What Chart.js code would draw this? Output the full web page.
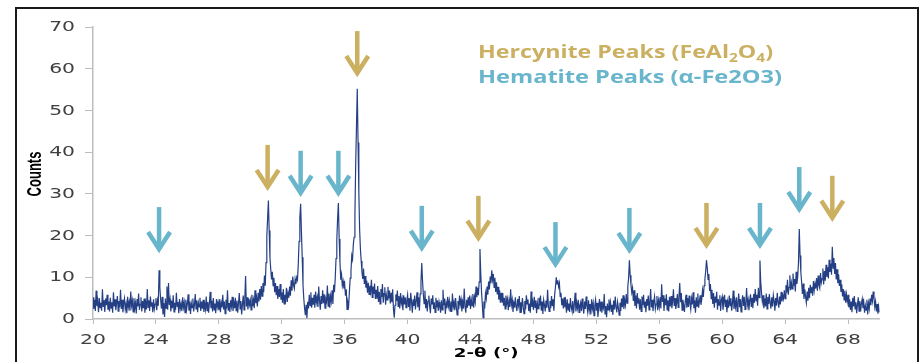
<!DOCTYPE html>
<html>
<head>
<meta charset="utf-8">
<script src="https://cdn.jsdelivr.net/npm/chart.js@4.4.1/dist/chart.umd.min.js"></script>
<style>
  html, body { margin: 0; padding: 0; background: #fff; }
  #xrd { display: block; }
</style>
</head>
<body>
<canvas id="xrd" width="921" height="362"></canvas>
<script>
// XRD scan, 2θ from 20° to 70° at 0.05° steps (one row per degree)
const scanStart = 20;
const scanStep = 0.05;
const counts = [
  5.2, 2.4, 4.6, 1.9, 6.8, 3.1, 4.4, 1.6, 5.0, 2.7, 3.9, 2.0, 7.1, 2.9, 4.5, 1.7, 4.9, 3.3, 5.8, 2.2,
  4.2, 1.8, 5.1, 2.6, 4.0, 1.5, 6.4, 3.0, 4.7, 2.1, 3.8, 5.5, 1.9, 4.3, 2.8, 7.0, 2.4, 4.6, 1.6, 3.7,
  4.9, 2.3, 3.6, 1.4, 5.3, 2.9, 4.1, 2.0, 6.6, 3.2, 4.4, 1.7, 5.0, 2.5, 3.9, 1.3, 4.8, 3.0, 6.1, 2.2,
  3.5, 5.2, 1.8, 4.3, 2.6, 4.9, 1.5, 3.8, 2.3, 7.2, 2.8, 4.5, 1.9, 5.4, 3.1, 4.0, 1.6, 4.7, 2.4, 3.6,
  5.0, 2.1, 4.4, 3.2, 11.7, 7.6, 4.6, 2.5, 5.3, 1.1, 3.8, 0.5, 4.9, 2.6, 7.8, 2.2, 8.6, 3.4, 4.7, 1.8,
  4.3, 2.6, 5.7, 1.7, 3.9, 2.2, 6.3, 3.0, 4.1, 1.4, 4.8, 2.5, 3.6, 1.9, 5.2, 2.8, 4.0, 1.5, 4.6, 2.3,
  3.7, 5.9, 2.0, 4.2, 1.2, 3.8, 2.7, 4.9, 1.8, 3.4, 6.0, 2.4, 4.5, 1.6, 3.9, 2.9, 5.1, 1.9, 4.2, 2.5,
  4.6, 1.7, 3.6, 2.3, 5.4, 2.0, 4.1, 1.5, 3.8, 6.5, 2.6, 4.4, 1.8, 5.0, 2.2, 3.7, 1.4, 4.8, 2.9, 4.0,
  2.1, 4.7, 1.6, 3.9, 2.8, 5.8, 2.3, 4.2, 1.3, 4.6, 2.5, 6.9, 2.0, 3.8, 1.7, 4.5, 3.0, 5.3, 1.9, 4.1,
  2.6, 5.1, 2.0, 4.4, 1.5, 3.9, 6.2, 2.4, 4.3, 1.1, 3.5, 5.6, 2.2, 4.7, 10.3, 3.0, 5.2, 2.3, 4.9, 3.4,
  4.5, 2.2, 5.8, 3.1, 4.6, 2.6, 6.9, 3.8, 5.1, 3.0, 6.3, 4.2, 7.2, 4.6, 7.9, 5.5, 8.6, 6.4, 10.4, 8.0,
  13.5, 19.8, 24.0, 28.4, 21.2, 14.6, 12.0, 9.5, 11.3, 8.0, 9.9, 6.4, 8.6, 5.7, 7.9, 4.8, 7.2, 5.3, 8.4, 4.6,
  6.4, 3.9, 7.2, 3.6, 5.8, 4.6, 7.5, 4.1, 6.2, 5.1, 7.8, 5.6, 9.3, 6.8, 10.2, 8.1, 7.3, 9.6, 8.4, 10.0,
  9.4, 13.1, 18.6, 24.3, 27.6, 21.0, 14.8, 8.2, 4.9, 2.6, 0.9, 3.4, 0.2, 4.1, 2.5, 5.8, 3.2, 6.4, 2.7, 5.1,
  3.4, 5.8, 2.7, 6.6, 4.0, 5.2, 2.9, 7.8, 4.4, 2.2, 5.5, 3.6, 6.9, 3.8, 5.9, 2.6, 4.9, 4.2, 8.0, 3.1,
  6.1, 2.7, 5.5, 4.2, 6.9, 3.6, 8.2, 6.4, 9.8, 14.5, 18.9, 24.1, 27.8, 19.2, 13.6, 9.4, 10.7, 8.0, 9.1, 7.3,
  8.4, 5.6, 7.1, 2.3, 4.0, 3.1, 6.5, 9.8, 11.4, 15.2, 14.3, 17.9, 19.6, 24.8, 37.1, 46.0, 55.2, 42.3, 30.4, 21.5,
  16.8, 13.9, 11.2, 9.6, 12.1, 8.4, 10.3, 7.5, 9.2, 6.3, 8.7, 5.9, 8.0, 6.6, 9.4, 5.2, 7.8, 6.0, 8.5, 4.8,
  7.0, 4.8, 7.9, 4.1, 6.5, 3.6, 7.2, 5.2, 8.4, 3.9, 6.1, 7.6, 3.4, 5.8, 4.6, 7.7, 5.0, 6.8, 3.7, 6.3,
  4.0, 7.1, 2.4, 0.3, 3.3, 5.9, 4.3, 6.8, 3.0, 5.5, 2.5, 6.2, 3.8, 4.9, 2.1, 5.7, 3.5, 5.2, 2.7, 4.5,
  5.8, 2.9, 5.0, 2.0, 6.3, 4.1, 1.5, 4.7, 3.1, 5.6, 2.3, 4.4, 6.4, 2.8, 5.2, 2.0, 6.0, 8.9, 13.4, 9.1,
  5.9, 3.7, 6.8, 2.6, 4.8, 1.8, 4.3, 5.6, 3.2, 1.4, 4.9, 3.5, 5.7, 2.4, 4.0, 1.6, 5.1, 2.8, 4.5, 2.0,
  4.1, 2.9, 1.5, 4.5, 2.2, 7.0, 3.3, 4.9, 1.2, 3.8, 2.6, 5.3, 3.1, 4.4, 1.9, 4.2, 1.7, 6.1, 2.9, 4.0,
  2.1, 5.0, 2.8, 1.0, 4.3, 2.3, 5.6, 3.5, 4.7, 1.8, 4.0, 2.5, 7.3, 3.0, 1.5, 4.6, 2.7, 5.2, 3.2, 5.6,
  2.4, 4.6, 3.2, 6.0, 2.7, 5.3, 4.1, 7.8, 5.2, 7.4, 5.7, 8.9, 16.8, 11.0, 6.5, 3.5, 0.3, 4.2, 2.5, 6.1,
  4.9, 7.8, 5.8, 9.0, 7.1, 10.2, 8.6, 11.7, 9.4, 10.8, 7.6, 9.9, 6.5, 8.8, 5.9, 7.7, 4.6, 6.9, 3.9, 6.3,
  3.9, 6.2, 3.2, 5.1, 2.4, 5.6, 3.7, 4.8, 2.1, 4.4, 2.9, 7.1, 3.4, 4.6, 1.7, 4.2, 2.7, 5.2, 3.0, 1.9,
  4.8, 3.3, 5.5, 1.6, 4.0, 2.6, 5.0, 2.9, 1.3, 4.3, 2.3, 5.7, 3.6, 4.7, 1.9, 3.7, 1.5, 6.6, 2.9, 4.1,
  2.2, 5.3, 2.8, 4.5, 1.4, 3.9, 2.5, 5.1, 3.2, 5.6, 2.0, 4.2, 1.2, 4.6, 3.4, 1.8, 4.4, 2.7, 7.0, 3.1,
  1.8, 4.3, 2.6, 5.5, 3.1, 4.7, 2.0, 5.9, 7.6, 10.0, 8.4, 9.3, 7.7, 8.6, 5.4, 6.3, 3.3, 4.9, 2.5, 5.2,
  2.8, 4.2, 1.5, 4.7, 2.2, 3.7, 1.7, 5.0, 2.9, 2.0, 4.3, 1.4, 3.5, 6.3, 1.8, 3.9, 2.6, 4.6, 1.6, 3.3,
  4.0, 1.9, 4.9, 2.8, 1.3, 4.2, 2.4, 5.4, 3.1, 1.7, 4.5, 2.1, 3.6, 1.1, 4.7, 2.5, 3.8, 0.8, 3.2, 4.6,
  2.0, 3.9, 0.5, 2.9, 4.8, 1.8, 4.2, 1.5, 3.5, 2.7, 6.0, 1.2, 3.1, 0.4, 3.7, 2.2, 4.7, 2.6, 4.0, 1.7,
  3.4, 1.0, 4.4, 2.3, 5.4, 2.9, 1.6, 4.1, 2.7, 0.9, 3.9, 1.9, 4.9, 2.8, 5.7, 2.4, 4.5, 3.3, 6.0, 3.8,
  7.8, 9.9, 14.1, 10.5, 8.2, 6.4, 7.5, 4.3, 6.9, 3.1, 5.6, 2.5, 6.2, 3.8, 5.0, 2.2, 4.7, 1.8, 5.4, 3.3,
  5.8, 2.7, 4.2, 1.6, 4.8, 3.2, 5.6, 2.2, 4.0, 7.2, 2.8, 4.6, 1.9, 4.1, 5.4, 2.4, 3.6, 5.5, 2.1, 4.4,
  2.9, 5.2, 2.5, 8.3, 4.1, 5.7, 1.9, 4.9, 3.3, 5.9, 2.2, 4.5, 1.8, 5.3, 3.0, 5.5, 2.6, 4.2, 7.1, 3.1,
  5.0, 2.4, 3.8, 6.0, 2.8, 5.3, 8.6, 4.0, 6.2, 2.1, 4.6, 3.4, 1.7, 4.2, 5.8, 2.7, 5.0, 2.9, 5.6, 3.7,
  2.3, 4.9, 3.5, 6.4, 2.6, 4.5, 1.5, 5.2, 3.1, 6.1, 2.7, 4.1, 5.7, 3.4, 4.7, 6.9, 5.3, 8.0, 9.6, 11.4,
  14.1, 12.3, 9.5, 10.8, 6.7, 8.4, 4.9, 7.0, 3.6, 6.2, 2.7, 5.4, 3.9, 6.5, 2.2, 4.8, 3.3, 5.7, 1.9, 4.6,
  5.4, 2.2, 4.0, 5.8, 2.9, 4.6, 1.6, 4.1, 2.7, 5.6, 3.2, 5.0, 2.0, 3.7, 6.8, 2.4, 4.4, 2.9, 5.2, 1.8,
  4.1, 6.1, 2.8, 4.8, 1.7, 4.2, 5.7, 3.1, 5.3, 2.3, 3.8, 7.4, 3.4, 4.6, 2.1, 4.4, 5.9, 2.9, 5.1, 2.6,
  6.0, 3.9, 7.2, 4.4, 5.8, 3.2, 7.5, 5.1, 14.0, 8.8, 6.3, 4.2, 5.7, 2.6, 4.9, 3.0, 6.1, 2.4, 5.3, 3.6,
  6.0, 3.8, 2.5, 5.2, 3.0, 5.7, 4.3, 2.0, 5.0, 3.2, 6.3, 4.0, 2.7, 5.4, 3.5, 6.5, 4.2, 5.6, 4.8, 6.9,
  4.9, 8.1, 6.3, 9.4, 5.8, 7.6, 10.5, 6.9, 8.7, 7.2, 10.9, 8.0, 9.6, 6.6, 11.3, 8.4, 10.1, 13.6, 21.6, 15.2,
  11.2, 8.8, 6.0, 8.5, 4.8, 7.1, 5.3, 3.9, 6.6, 4.4, 7.5, 5.0, 8.2, 6.3, 7.7, 5.6, 9.1, 6.9, 8.5, 7.3,
  9.8, 6.8, 10.4, 8.1, 7.4, 11.0, 8.7, 9.6, 12.1, 8.3, 11.5, 9.2, 13.0, 10.1, 12.4, 9.7, 14.2, 11.3, 13.3, 10.6,
  17.3, 12.2, 14.6, 10.8, 13.4, 9.5, 11.9, 8.6, 10.7, 7.9, 9.4, 6.5, 8.3, 5.4, 7.2, 4.6, 6.8, 3.9, 5.9, 4.2,
  5.8, 2.8, 4.7, 2.2, 4.2, 1.6, 5.1, 3.0, 5.5, 2.4, 4.0, 1.4, 3.5, 5.2, 1.9, 4.3, 1.8, 3.7, 4.8, 2.6,
  4.0, 1.5, 3.2, 2.1, 4.6, 1.1, 3.8, 2.5, 4.9, 3.3, 5.8, 4.3, 6.6, 5.0, 2.9, 4.2, 1.8, 3.6, 1.3, 3.0,
  1.6
];

const xTickValues = [20, 24, 28, 32, 36, 40, 44, 48, 52, 56, 60, 64, 68];
const yTickValues = [0, 10, 20, 30, 40, 50, 60, 70];
const xTitle = '2-\u03b8 (\u00b0)';
const yTitle = 'Counts';

// peak markers: 2θ position and height of the arrow tip (counts)
const hercynitePeaks = [31.1, 36.8, 44.5, 59.0, 67.0];
const hercyniteTips = [30.7, 58.0, 18.5, 16.8, 23.3];
const hematitePeaks = [24.2, 33.2, 35.6, 40.9, 49.4, 54.1, 62.4, 64.9];
const hematiteTips = [15.8, 29.3, 29.3, 16.1, 12.2, 15.6, 16.8, 25.4];

// "_" marks a subscript digit
const phaseLabels = ['Hercynite Peaks (FeAl_2O_4)', 'Hematite Peaks (\u03b1-Fe2O3)'];

const GOLD = '#cbb062';
const AQUA = '#68b5cc';
const TICK_FONT = '14px "DejaVu Sans"';
const STRETCH = 1.45; // all lettering in this figure is drawn wide

const points = counts.map((c, i) => ({ x: scanStart + i * scanStep, y: c }));

// fillText with a horizontal stretch about the anchor point
function wideText(ctx, text, x, y, sx, align, baseline) {
  ctx.save();
  ctx.translate(x, y);
  ctx.scale(sx, 1);
  ctx.textAlign = align;
  ctx.textBaseline = baseline;
  ctx.fillText(text, 0, 0);
  ctx.restore();
}

function drawArrow(ctx, px, tipY, color) {
  const len = 46, wing = 11, head = 17;
  const tip = tipY - 4;
  ctx.save();
  ctx.strokeStyle = color;
  ctx.lineWidth = 4.5;
  ctx.lineCap = 'butt';
  ctx.lineJoin = 'miter';
  ctx.beginPath();
  ctx.moveTo(px, tipY - len);
  ctx.lineTo(px, tip - 2);
  ctx.stroke();
  ctx.beginPath();
  ctx.moveTo(px - wing, tip - head);
  ctx.lineTo(px, tip);
  ctx.lineTo(px + wing, tip - head);
  ctx.stroke();
  ctx.restore();
}

function drawLabel(ctx, text, x, y, width, color) {
  const big = 'bold 18px "Open Sans"', small = 'bold 12px "Open Sans"';
  const parts = text.split(/(_\d)/).filter(Boolean);
  ctx.save();
  ctx.fillStyle = color;
  let w = 0;
  parts.forEach(p => {
    ctx.font = p[0] === '_' ? small : big;
    w += ctx.measureText(p[0] === '_' ? p[1] : p).width;
  });
  ctx.translate(x, y);
  ctx.scale(width / w, 1);
  ctx.textBaseline = 'alphabetic';
  let cx = 0;
  parts.forEach(p => {
    const sub = p[0] === '_';
    const s = sub ? p[1] : p;
    ctx.font = sub ? small : big;
    ctx.fillText(s, cx, sub ? 4 : 0);
    cx += ctx.measureText(s).width;
  });
  ctx.restore();
}

const axisText = {
  id: 'axisText',
  afterDraw(chart) {
    const { ctx, scales: { x, y } } = chart;
    ctx.save();
    ctx.fillStyle = '#404040';
    ctx.font = TICK_FONT;
    y.ticks.forEach(t => wideText(ctx, String(t.value), 75, y.getPixelForValue(t.value) + 0.5, STRETCH, 'right', 'middle'));
    x.ticks.forEach(t => wideText(ctx, String(t.value), x.getPixelForValue(t.value), 340.5, STRETCH, 'center', 'middle'));

    ctx.fillStyle = '#000';
    ctx.font = 'bold 13px "DejaVu Sans"';
    wideText(ctx, xTitle, (x.left + x.right) / 2, 353.5, 1.4, 'center', 'middle');

    ctx.font = 'bold 13px "Liberation Sans"';
    ctx.translate(35.5, (y.top + y.bottom) / 2 + 1);
    ctx.scale(1.5, 1);
    ctx.rotate(-Math.PI / 2);
    ctx.textAlign = 'center';
    ctx.textBaseline = 'middle';
    ctx.fillText(yTitle, 0, 0);
    ctx.restore();
  }
};

const peakMarkers = {
  id: 'peakMarkers',
  afterDatasetsDraw(chart) {
    const { ctx, scales: { x, y } } = chart;
    hercynitePeaks.forEach((p, i) => drawArrow(ctx, x.getPixelForValue(p), y.getPixelForValue(hercyniteTips[i]), GOLD));
    hematitePeaks.forEach((p, i) => drawArrow(ctx, x.getPixelForValue(p), y.getPixelForValue(hematiteTips[i]), AQUA));
    drawLabel(ctx, phaseLabels[0], 478, 58, 295, GOLD);
    drawLabel(ctx, phaseLabels[1], 478, 83, 304, AQUA);
  }
};

const frame = {
  id: 'frame',
  afterDraw(chart) {
    const ctx = chart.ctx;
    ctx.save();
    ctx.strokeStyle = '#1a1a1a';
    ctx.lineWidth = 2;
    ctx.strokeRect(16, 8, 902, 380);
    ctx.restore();
  }
};

new Chart(document.getElementById('xrd'), {
  type: 'line',
  data: {
    datasets: [{
      data: points,
      borderColor: '#243f84',
      borderWidth: 1.2,
      pointRadius: 0,
      tension: 0
    }]
  },
  options: {
    responsive: false,
    animation: false,
    layout: { padding: { top: 27, right: 41.5, left: 0, bottom: 0 } },
    plugins: { legend: { display: false }, tooltip: { enabled: false } },
    scales: {
      x: {
        type: 'linear',
        min: 20,
        max: 70,
        afterBuildTicks: s => { s.ticks = xTickValues.map(v => ({ value: v })); },
        afterFit: s => { s.height = 43; },
        grid: { drawOnChartArea: false, tickLength: 5, color: '#bdbdbd' },
        border: { color: '#bdbdbd', width: 1.5 },
        ticks: { display: false }
      },
      y: {
        min: 0,
        max: 70,
        afterBuildTicks: s => { s.ticks = yTickValues.map(v => ({ value: v })); },
        afterFit: s => { s.width = 93; },
        grid: { drawOnChartArea: false, tickLength: 8, color: '#bdbdbd' },
        border: { color: '#bdbdbd', width: 1.5 },
        ticks: { display: false }
      }
    }
  },
  plugins: [peakMarkers, axisText, frame]
});
</script>
</body>
</html>
